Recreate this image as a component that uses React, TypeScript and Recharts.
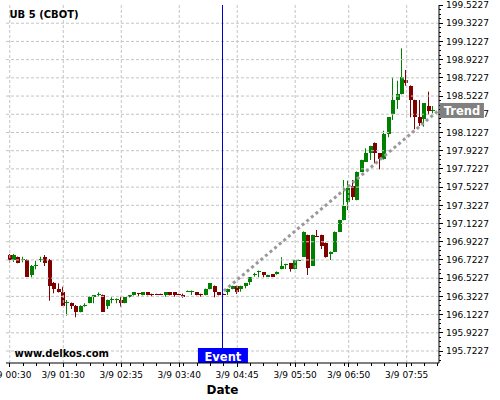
import React from 'react';
import { ComposedChart, Bar, Line, XAxis, YAxis, ReferenceLine } from 'recharts';

// 5-minute candles, 3/9
const TIMES = [
  '00:30', '00:35', '00:40', '00:45', '00:50', '00:55', '01:00', '01:05', '01:10', '01:15', '01:20', '01:25',
  '01:30', '01:35', '01:40', '01:45', '01:50', '01:55', '02:00', '02:05', '02:10', '02:15', '02:20', '02:25',
  '02:30', '02:35', '02:40', '02:45', '02:50', '02:55', '03:00', '03:05', '03:10', '03:15', '03:20', '03:25',
  '03:30', '03:35', '03:40', '03:45', '03:50', '03:55', '04:00', '04:05', '04:10', '04:15', '04:20', '04:25',
  '04:30', '04:35', '04:40', '04:45', '04:50', '04:55', '05:00', '05:05', '05:10', '05:15', '05:20', '05:25',
  '05:30', '05:35', '05:40', '05:45', '05:50', '05:55', '06:00', '06:05', '06:10', '06:15', '06:20', '06:25',
  '06:30', '06:35', '06:40', '06:45', '06:50', '06:55', '07:00', '07:05', '07:10', '07:15', '07:20', '07:25',
  '07:30', '07:35', '07:40', '07:45', '07:50', '07:55', '08:00', '08:05', '08:10', '08:15', '08:20', '08:25',
];

const OPEN = [
  196.777, 196.722, 196.752, 196.728, 196.722, 196.557, 196.664, 196.730, 196.752, 196.722,
  196.473, 196.404, 196.374, 196.255, 196.247, 196.220, 196.154, 196.225, 196.253, 196.316,
  196.345, 196.338, 196.220, 196.288, 196.288, 196.283, 196.253, 196.312, 196.334, 196.356,
  196.338, 196.367, 196.351, 196.351, 196.351, 196.338, 196.367, 196.367, 196.351, 196.338,
  196.378, 196.378, 196.367, 196.349, 196.338, 196.404, 196.437, 196.367, 196.349, 196.367,
  196.404, 196.437, 196.404, 196.437, 196.477, 196.563, 196.598, 196.587, 196.539, 196.565,
  196.565, 196.623, 196.673, 196.686, 196.623, 196.719, 196.758, 196.997, 196.660, 196.989,
  196.997, 196.912, 196.785, 196.813, 197.033, 197.161, 197.363, 197.538, 197.381, 197.692,
  197.802, 197.894, 198.010, 197.894, 197.828, 198.106, 198.326, 198.479, 198.545, 198.699,
  198.636, 198.479, 198.289, 198.267, 198.413, 198.366,
];

const HIGH = [
  196.788, 196.788, 196.760, 196.758, 196.733, 196.667, 196.714, 196.758, 196.777, 196.733,
  196.480, 196.466, 196.429, 196.283, 196.255, 196.228, 196.225, 196.247, 196.321, 196.338,
  196.367, 196.343, 196.288, 196.313, 196.300, 196.319, 196.316, 196.338, 196.370, 196.360,
  196.370, 196.370, 196.352, 196.352, 196.352, 196.370, 196.370, 196.370, 196.352, 196.352,
  196.387, 196.387, 196.370, 196.352, 196.408, 196.470, 196.442, 196.370, 196.352, 196.407,
  196.440, 196.440, 196.440, 196.470, 196.535, 196.582, 196.607, 196.590, 196.560, 196.568,
  196.597, 196.752, 196.681, 196.690, 196.725, 196.728, 197.036, 197.000, 197.000, 197.052,
  197.000, 196.915, 196.816, 197.036, 197.164, 197.601, 197.593, 197.601, 197.695, 197.823,
  197.949, 197.977, 198.013, 197.897, 198.142, 198.292, 198.729, 198.691, 199.047, 198.809,
  198.640, 198.482, 198.479, 198.446, 198.571, 198.413,
];

const LOW = [
  196.689, 196.700, 196.686, 196.697, 196.535, 196.532, 196.620, 196.700, 196.656, 196.275,
  196.356, 196.365, 196.217, 196.111, 196.184, 196.093, 196.148, 196.209, 196.247, 196.247,
  196.319, 196.151, 196.184, 196.247, 196.247, 196.209, 196.247, 196.310, 196.332, 196.319,
  196.334, 196.334, 196.319, 196.346, 196.346, 196.319, 196.334, 196.319, 196.346, 196.308,
  196.375, 196.338, 196.334, 196.319, 196.334, 196.400, 196.312, 196.334, 196.340, 196.338,
  196.400, 196.349, 196.374, 196.411, 196.448, 196.539, 196.532, 196.532, 196.536, 196.536,
  196.560, 196.620, 196.623, 196.594, 196.620, 196.716, 196.755, 196.557, 196.657, 196.980,
  196.843, 196.748, 196.722, 196.810, 197.030, 197.158, 197.271, 197.381, 197.378, 197.689,
  197.800, 197.820, 197.784, 197.718, 197.825, 198.070, 198.260, 198.381, 198.540, 198.636,
  198.289, 198.158, 198.194, 198.186, 198.315, 198.333,
];

const CLOSE = [
  196.722, 196.777, 196.692, 196.735, 196.539, 196.656, 196.672, 196.736, 196.692, 196.440,
  196.404, 196.367, 196.220, 196.261, 196.220, 196.154, 196.220, 196.231, 196.316, 196.334,
  196.352, 196.154, 196.283, 196.294, 196.294, 196.255, 196.312, 196.334, 196.367, 196.345,
  196.367, 196.338, 196.347, 196.347, 196.347, 196.367, 196.338, 196.338, 196.347, 196.319,
  196.384, 196.384, 196.338, 196.343, 196.404, 196.466, 196.374, 196.338, 196.343, 196.404,
  196.437, 196.374, 196.437, 196.466, 196.532, 196.568, 196.604, 196.557, 196.557, 196.539,
  196.594, 196.656, 196.678, 196.623, 196.722, 196.725, 197.033, 196.631, 196.997, 196.983,
  196.879, 196.752, 196.813, 197.033, 197.161, 197.318, 197.510, 197.417, 197.692, 197.820,
  197.894, 197.974, 197.894, 197.828, 198.106, 198.289, 198.479, 198.545, 198.729, 198.669,
  198.479, 198.289, 198.230, 198.443, 198.362, 198.373,
];

const TREND_TIMES = ['04:30', '08:30'];
const TREND_VALUES = [196.382, 198.359];
const EVENT_TIME = '04:29';

const X_LABELS = ['00:30', '01:30', '02:35', '03:40', '04:45', '05:50', '06:50', '07:55'];
const Y_LABELS = [
  195.7227, 195.9227, 196.1227, 196.3227, 196.5227, 196.7227, 196.9227, 197.1227, 197.3227, 197.5227,
  197.7227, 197.9227, 198.1227, 198.3227, 198.5227, 198.7227, 198.9227, 199.1227, 199.3227, 199.5227,
];

const X_DOMAIN = [25.8, 511.2];
const Y_DOMAIN = [195.591, 199.5227];

const GREEN = '#008000';
const RED = '#800000';
const GRID = '#c4c4c4';
const FONT = 'DejaVu Sans';

const toMin = (t: string) => {
  const [h, m] = t.split(':').map(Number);
  return h * 60 + m;
};
const fmtTime = (v: number) => {
  const h = Math.floor(v / 60);
  const m = v % 60;
  return `3/9 ${String(h).padStart(2, '0')}:${String(m).padStart(2, '0')}`;
};

const rows = TIMES.map((t, i) => ({
  t: toMin(t),
  open: OPEN[i],
  high: HIGH[i],
  low: LOW[i],
  close: CLOSE[i],
}));
const trendRows = TREND_TIMES.map((t, i) => ({ t: toMin(t), trend: TREND_VALUES[i] }));

const majorX = X_LABELS.map(toMin);
const minorX: number[] = [];
for (let m = 30; m <= X_DOMAIN[1]; m += 15) minorX.push(m);
const xTicks = Array.from(new Set([...majorX, ...minorX])).sort((a, b) => a - b);

const majorY = Y_LABELS.map((v) => Math.round(v * 10000));
const yTicks: number[] = [];
for (let k = -3; k <= 76; k++) {
  const v = Math.round((195.7227 + k * 0.05) * 10000) / 10000;
  if (v >= Y_DOMAIN[0] && v <= Y_DOMAIN[1]) yTicks.push(v);
}

const Candle = (props: any) => {
  const { x, y, width, height, payload } = props;
  const { open, close, high, low } = payload;
  const color = close >= open ? GREEN : RED;
  const top = Math.min(y, y + height);
  const h = Math.abs(height);
  const ppu = h / (high - low || 1);
  const cx = Math.round(x + width / 2);
  const bodyTop = top + (high - Math.max(open, close)) * ppu;
  const bodyH = Math.max(1, Math.abs(open - close) * ppu);
  return (
    <g>
      <line x1={cx - 0.5} x2={cx - 0.5} y1={top} y2={top + h} stroke={color} strokeWidth={1} />
      <rect x={cx - 2} y={bodyTop} width={4} height={bodyH} fill={color} shapeRendering="crispEdges" />
    </g>
  );
};

const XTick = (props: any) => {
  const { x, y, payload } = props;
  const major = majorX.includes(payload.value);
  const axisY = y - 9;
  return (
    <g>
      <line x1={x} x2={x} y1={axisY} y2={axisY + (major ? 4 : 3)} stroke="#000" shapeRendering="crispEdges" />
      {major && (
        <text x={x} y={y} dy="0.71em" textAnchor="middle" fontSize={9} fontFamily={FONT} fill="#000">
          {fmtTime(payload.value)}
        </text>
      )}
    </g>
  );
};

const YTick = (props: any) => {
  const { x, y, payload } = props;
  const major = majorY.includes(Math.round(payload.value * 10000));
  const axisX = x - 7;
  return (
    <g>
      <line x1={axisX} x2={axisX + (major ? 4 : 2)} y1={y} y2={y} stroke="#000" shapeRendering="crispEdges" />
      {major && (
        <text x={x} y={y} dy="0.355em" textAnchor="start" fontSize={9} fontFamily={FONT} fill="#000">
          {payload.value.toFixed(4)}
        </text>
      )}
    </g>
  );
};

const EventLabel = (props: any) => {
  const { viewBox } = props;
  const bottom = viewBox.y + viewBox.height;
  return (
    <g>
      <rect x={viewBox.x - 25} y={bottom - 15} width={50} height={15} fill="#0000ff" />
      <text x={viewBox.x} y={bottom - 2.5} textAnchor="middle" fontSize={11.5} fontWeight="bold" fontFamily={FONT} fill="#fff">
        Event
      </text>
    </g>
  );
};

const TrendLabel = (props: any) => {
  const { x, y, index } = props;
  if (index !== TREND_VALUES.length - 1) return <g />;
  return (
    <g>
      <rect x={x + 2} y={y - 8} width={44} height={15} fill="#808080" />
      <text x={x + 24} y={y + 4} textAnchor="middle" fontSize={11.5} fontWeight="bold" fontFamily={FONT} fill="#fff">
        Trend
      </text>
    </g>
  );
};

export default function App() {
  return (
    <div style={{ position: 'absolute', left: 0, top: 0, width: 500, height: 400, background: '#fff' }}>
      <ComposedChart
        width={500}
        height={400}
        data={rows}
        margin={{ top: 5, right: 0, bottom: 0, left: 6 }}
        style={{ fontFamily: FONT }}
      >
        {Y_LABELS.slice(0, -1).map((v) => (
          <ReferenceLine key={`gy-${v}`} y={v} stroke={GRID} strokeDasharray="3 2" />
        ))}
        {majorX.map((t) => (
          <ReferenceLine key={`gx-${t}`} x={t} stroke={GRID} strokeDasharray="3 2" />
        ))}
        <XAxis
          dataKey="t"
          type="number"
          domain={X_DOMAIN}
          allowDataOverflow
          ticks={xTicks}
          interval={0}
          height={37}
          tickSize={4}
          tickMargin={5}
          tickLine={false}
          tick={<XTick />}
          axisLine={{ stroke: '#000' }}
          label={{ value: 'Date', position: 'insideBottom', offset: 6, fontSize: 12, fontWeight: 'bold', fill: '#000' }}
        />
        <YAxis
          orientation="right"
          type="number"
          domain={Y_DOMAIN}
          allowDataOverflow
          ticks={yTicks}
          interval={0}
          width={61}
          tickSize={4}
          tickMargin={3}
          tickLine={false}
          tick={<YTick />}
          axisLine={{ stroke: '#000' }}
        />
        <Bar dataKey={(d: any) => [d.low, d.high]} barSize={4} shape={<Candle />} isAnimationActive={false} />
        <ReferenceLine
          x={toMin(EVENT_TIME)}
          stroke="#0000cc"
          strokeWidth={1}
          shapeRendering="crispEdges"
          label={<EventLabel />}
        />
        <Line
          data={trendRows}
          dataKey="trend"
          stroke="#999999"
          strokeWidth={3}
          strokeDasharray="3 3"
          dot={false}
          isAnimationActive={false}
          label={<TrendLabel />}
        />
      </ComposedChart>
      <svg width={500} height={400} style={{ position: 'absolute', left: 0, top: 0, pointerEvents: 'none' }}>
        <text x={9.5} y={18} fontSize={10} fontWeight="bold" fontFamily={FONT} fill="#000">
          UB 5 (CBOT)
        </text>
        <text x={14.5} y={357} fontSize={10} fontWeight="bold" fontFamily={FONT} fill="#000">
          www.delkos.com
        </text>
      </svg>
    </div>
  );
}
